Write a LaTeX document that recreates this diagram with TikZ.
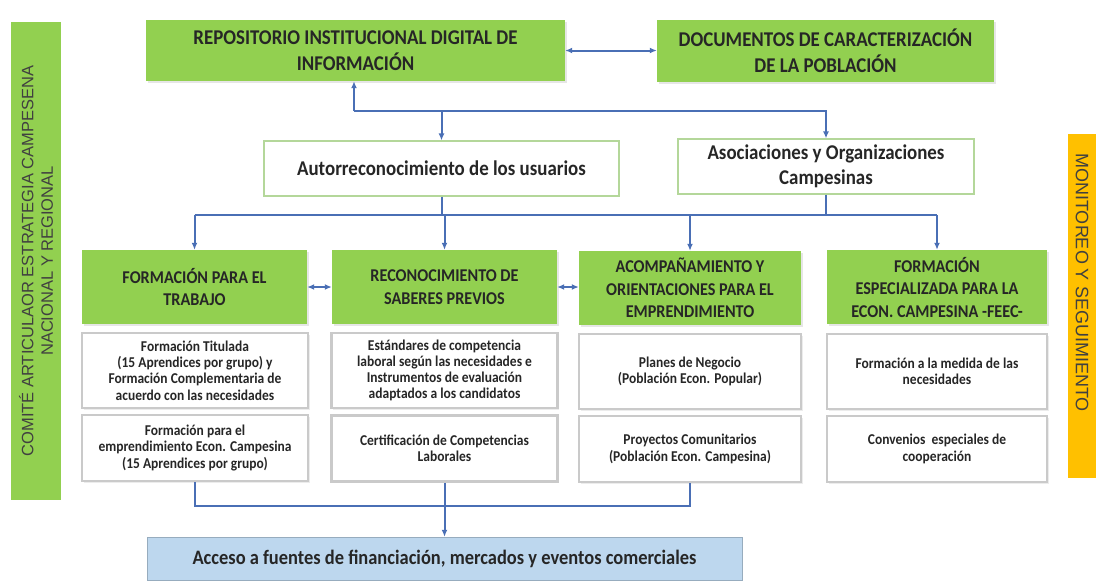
\documentclass[tikz,border=0pt]{standalone}
\usepackage{fontspec}
\setmainfont{Carlito}[FakeStretch=0.9]
\newfontfamily\barfont{Liberation Sans}
\usetikzlibrary{shadows,arrows.meta}

\definecolor{verde}{HTML}{92D050}
\definecolor{azul}{HTML}{4A6FB5}
\definecolor{celeste}{HTML}{BDD7EE}
\definecolor{ambar}{HTML}{FFC000}
\definecolor{gris}{HTML}{CACACA}
\definecolor{borde}{HTML}{B4D79A}
\definecolor{texto}{HTML}{262626}

\begin{document}
\begin{tikzpicture}[x=1pt,y=1pt,>={Latex[length=7pt,width=6pt]}]
\tikzstyle{every node}+=[inner sep=0pt, text=texto, align=center]
\tikzstyle{titulo}=[fill=verde, minimum height=74, font=\bfseries\fontsize{18}{22.5}\selectfont, drop shadow={opacity=0.2,shadow xshift=1.5pt,shadow yshift=-1.5pt}]
\tikzstyle{cabeza}=[titulo, font=\bfseries\fontsize{21}{26}\selectfont]
\tikzstyle{nivel}=[draw=borde, line width=1.2pt, fill=white, minimum height=55, font=\bfseries\fontsize{21}{25}\selectfont]
\tikzstyle{detalle}=[draw=gris, line width=2.5pt, fill=white, font=\bfseries\fontsize{15}{16.2}\selectfont, drop shadow={opacity=0.15,shadow xshift=1.5pt,shadow yshift=-1.5pt}]
\tikzstyle{barra}=[text=black!75, font=\barfont\fontsize{16.5}{19.5}\selectfont]
\tikzstyle{link}=[draw=azul, line width=2pt]
\useasboundingbox (0,0) rectangle (1096,-582);
% side bars
\node[barra, fill=verde, rotate=90, minimum width=478, minimum height=50] (comite) at (36,-261) {COMITÉ ARTICULAOR ESTRATEGIA CAMPESENA\\NACIONAL Y REGIONAL};
\node[barra, fill=ambar, rotate=-90, minimum width=344, minimum height=28, font=\barfont\fontsize{18}{20}\selectfont] (monitoreo) at (1082,-306) {MONITOREO Y SEGUIMIENTO\hspace{47pt}\mbox{}};
% top level
\node[cabeza, minimum width=419, minimum height=61] (repo) at (355.5,-50.5) {REPOSITORIO INSTITUCIONAL DIGITAL DE\\INFORMACIÓN};
\node[cabeza, minimum width=337, minimum height=62] (docs) at (825.5,-51) {DOCUMENTOS DE CARACTERIZACIÓN\\DE LA POBLACIÓN};
\node[nivel, minimum width=355] (autorr) at (441.5,-168.5) {Autorreconocimiento de los usuarios};
\node[nivel, minimum width=296] (asoc) at (826,-166.5) {Asociaciones y Organizaciones\\Campesinas};
% lines of action
\node[titulo, minimum width=225] (trabajo) at (194.5,-287) {FORMACIÓN PARA EL\\TRABAJO};
\node[titulo, minimum width=225] (saberes) at (444.5,-287) {RECONOCIMIENTO DE\\SABERES PREVIOS};
\node[titulo, minimum width=222] (acomp) at (690,-288) {ACOMPAÑAMIENTO Y\\ORIENTACIONES PARA EL\\EMPRENDIMIENTO};
\node[titulo, minimum width=220] (feec) at (937,-287) {FORMACIÓN\\ESPECIALIZADA PARA LA\\ECON. CAMPESINA -FEEC-};
% details
\node[detalle, minimum width=226, minimum height=75] (titulada) at (195,-370.5) {Formación Titulada\\(15 Aprendices por grupo) y\\Formación Complementaria de\\acuerdo con las necesidades};
\node[detalle, minimum width=226, minimum height=75] (estandares) at (444.5,-370.5) {Estándares de competencia\\laboral según las necesidades e\\Instrumentos de evaluación\\adaptados a los candidatos};
\node[detalle, minimum width=222, minimum height=75] (planes) at (690,-371.5) {Planes de Negocio\\(Población Econ. Popular)};
\node[detalle, minimum width=220, minimum height=75] (medida) at (937,-371.5) {Formación a la medida de las\\necesidades};
\node[detalle, minimum width=226, minimum height=66] (empr) at (195,-448) {Formación para el\\emprendimiento Econ. Campesina\\(15 Aprendices por grupo)};
\node[detalle, minimum width=226, minimum height=66] (cert) at (444.5,-448.5) {Certificación de Competencias\\Laborales};
\node[detalle, minimum width=222, minimum height=66] (proy) at (690,-449) {Proyectos Comunitarios\\(Población Econ. Campesina)};
\node[detalle, minimum width=220, minimum height=66] (conv) at (937,-449) {Convenios\ \ especiales de\\cooperación};
\node[draw=celeste!80!black, fill=celeste, minimum width=595, minimum height=43, font=\bfseries\fontsize{20.5}{24}\selectfont] (acceso) at (444.5,-558.5) {Acceso a fuentes de financiación, mercados y eventos comerciales};
% connectors
\draw[link,<->] (repo.east) -- (repo.east -| docs.west);
\coordinate (sup) at (354,-111);
\draw[link,->] (sup) -- (sup |- repo.south);
\draw[link,->] (sup) -| (asoc.north);
\draw[link,->] (sup -| autorr.north) -- (autorr.north);
\coordinate (med) at (0,-215);
\draw[link] (autorr.south) -- (autorr.south |- med);
\draw[link] (asoc.south) -- (asoc.south |- med);
\draw[link] (trabajo.north |- med) -- (feec.north |- med);
\foreach \n in {trabajo,saberes,acomp,feec}
  \draw[link,->] (\n.north |- med) -- (\n.north);
\draw[link,<->] (trabajo) -- (saberes);
\draw[link,<->] (saberes.east) -- (saberes.east -| acomp.west);
\coordinate (inf) at (0,-506);
\draw[link] (empr.south) |- (proy.south |- inf) -- (proy.south);
\draw[link,->] (cert.south) -- (acceso.north);
\end{tikzpicture}
\end{document}
